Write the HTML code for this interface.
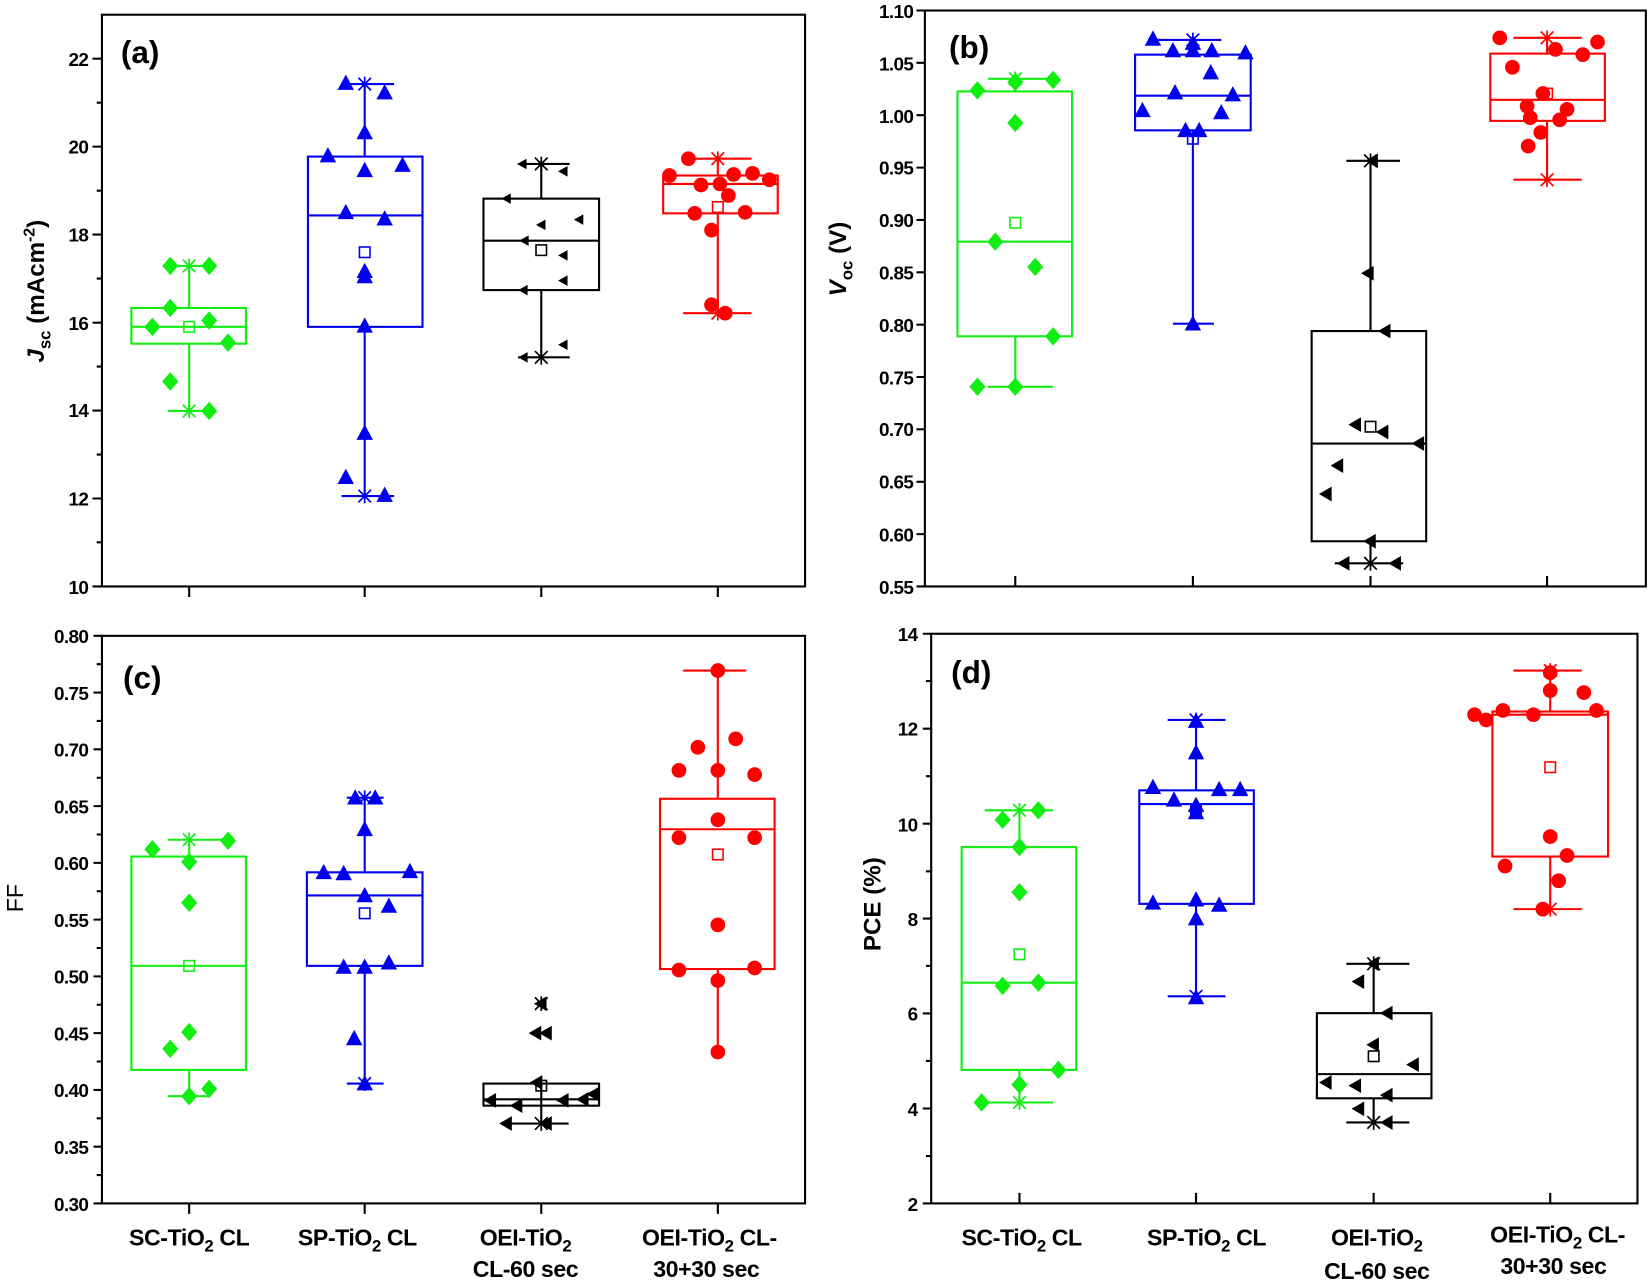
<!DOCTYPE html>
<html><head><meta charset="utf-8"><style>
html,body{margin:0;padding:0;background:#fff;}
svg{display:block;font-family:"Liberation Sans",Arial,sans-serif;}
.t{font-size:18px;font-weight:bold;fill:#000;letter-spacing:-0.6px;}
.xl{font-size:22px;font-weight:bold;fill:#000;letter-spacing:-0.4px;}
.pl{font-size:30px;font-weight:bold;fill:#000;}
.al{font-size:23px;font-weight:bold;fill:#000;}
</style></head><body>
<svg width="1648" height="1281" viewBox="0 0 1648 1281" xmlns="http://www.w3.org/2000/svg">
<defs>
<path id="dia" d="M0,-8 L7,0 0,8 -7,0Z"/>
<path id="tri" d="M0,-8 L7,5 -7,5Z"/>
<path id="lt" d="M-7,0 L5,-7 5,7Z"/>
<path id="lts" d="M-5,0 L4,-5 4,5Z"/>
<circle id="cir" r="6.5"/>
<path id="st" d="M-6,-6L6,6M-6,6L6,-6M0,-7L0,7" fill="none" stroke-width="1.6"/>
</defs>
<g transform="scale(1.051)">

<!-- ================= PANEL A ================= -->
<g stroke="#000" stroke-width="2" fill="none">
<rect x="97" y="14" width="669" height="544"/>
<path d="M97,55.8h-9M97,139.5h-9M97,223.2h-9M97,307h-9M97,390.6h-9M97,474.3h-9M97,558h-9
M97,97.7h-5M97,181.4h-5M97,265h-5M97,348.8h-5M97,432.5h-5M97,516h-5
M180,558v10M347,558v10M515,558v10M683,558v10"/>
</g>
<g class="t" text-anchor="end">
<text x="84" y="63">22</text><text x="84" y="146">20</text><text x="84" y="230">18</text><text x="84" y="314">16</text><text x="84" y="397">14</text><text x="84" y="481">12</text><text x="84" y="565">10</text>
</g>
<text class="pl" x="115" y="60">(a)</text>
<text class="al" transform="translate(42,345) rotate(-90)"><tspan font-style="italic">J</tspan><tspan font-size="16" dy="6">sc</tspan><tspan dy="-6"> (mAcm</tspan><tspan font-size="15" dy="-9">-2</tspan><tspan dy="9">)</tspan></text>

<g stroke="#11ee11" stroke-width="2" fill="none">
<rect x="125" y="293" width="109" height="34"/><path d="M125,311H234M180,293V253M180,327V391M160,253H205M160,391H205"/>
<rect x="175" y="306" width="10" height="10" stroke-width="1.5"/>
</g>
<g fill="#11ee11" stroke="#11ee11">
<use href="#dia" x="162" y="253"/><use href="#dia" x="199" y="253"/><use href="#dia" x="162" y="293"/><use href="#dia" x="145" y="311"/><use href="#dia" x="199" y="305"/><use href="#dia" x="217" y="326"/><use href="#dia" x="162" y="363"/><use href="#dia" x="199" y="391"/>
<use href="#st" x="180" y="253"/><use href="#st" x="180" y="391"/>
</g>
<g stroke="#0000ee" stroke-width="2" fill="none">
<rect x="293" y="149" width="109" height="162"/><path d="M293,205H402M347,149V80M347,311V472M325,80H375M325,472H375"/>
<rect x="342" y="235" width="10" height="10" stroke-width="1.5"/>
</g>
<g fill="#0000ee" stroke="#0000ee">
<use href="#tri" x="329" y="80"/><use href="#tri" x="366" y="89"/><use href="#tri" x="347" y="127"/><use href="#tri" x="312" y="149"/><use href="#tri" x="347" y="163"/><use href="#tri" x="383" y="158"/><use href="#tri" x="329" y="203"/><use href="#tri" x="366" y="209"/><use href="#tri" x="347" y="259"/><use href="#tri" x="347" y="264"/><use href="#tri" x="347" y="311"/><use href="#tri" x="347" y="413"/><use href="#tri" x="329" y="455"/><use href="#tri" x="366" y="472"/>
<use href="#st" x="347" y="80"/><use href="#st" x="347" y="472"/>
</g>
<g stroke="#000" stroke-width="2" fill="none">
<rect x="460" y="189" width="110" height="87"/><path d="M460,229H570M515,189V156M515,276V340M493,156H542M493,340H542"/>
<rect x="510" y="233" width="10" height="10" stroke-width="1.5"/>
</g>
<g fill="#000">
<use href="#lts" x="497" y="156"/><use href="#lts" x="536" y="163"/><use href="#lts" x="482" y="189"/><use href="#lts" x="515" y="214"/><use href="#lts" x="551" y="209"/><use href="#lts" x="499" y="229"/><use href="#lts" x="536" y="243"/><use href="#lts" x="536" y="267"/><use href="#lts" x="498" y="276"/><use href="#lts" x="536" y="328"/><use href="#lts" x="498" y="340"/>
<use href="#st" x="515" y="156" stroke="#000"/><use href="#st" x="515" y="340" stroke="#000"/>
</g>
<g stroke="#ff0000" stroke-width="2" fill="none">
<rect x="631" y="167" width="109" height="36"/><path d="M631,175H740M683,167V151M683,203V298M650,151H715M650,298H715"/>
<rect x="678" y="192" width="10" height="10" stroke-width="1.5"/>
</g>
<g fill="#ff0000" stroke="#ff0000">
<use href="#cir" x="655" y="151"/><use href="#cir" x="637" y="167"/><use href="#cir" x="698" y="166"/><use href="#cir" x="716" y="165"/><use href="#cir" x="732" y="171"/><use href="#cir" x="667" y="176"/><use href="#cir" x="685" y="175"/><use href="#cir" x="693" y="186"/><use href="#cir" x="661" y="203"/><use href="#cir" x="709" y="202"/><use href="#cir" x="677" y="219"/><use href="#cir" x="677" y="290"/><use href="#cir" x="690" y="298"/>
<use href="#st" x="683" y="151"/><use href="#st" x="683" y="298"/>
</g>

<!-- ================= PANEL B ================= -->
<g stroke="#000" stroke-width="2" fill="none">
<rect x="880" y="10" width="686" height="548"/>
<path d="M880,10h-8M880,59.8h-8M880,109.6h-8M880,159.5h-8M880,209.3h-8M880,259.1h-8M880,308.9h-8M880,358.7h-8M880,408.5h-8M880,458.4h-8M880,508.2h-8M880,558h-8
M966,558v-10M1135,558v-10M1304,558v-10M1472,558v-10"/>
</g>
<g class="t" text-anchor="end">
<text x="869" y="17">1.10</text><text x="869" y="67">1.05</text><text x="869" y="117">1.00</text><text x="869" y="166">0.95</text><text x="869" y="216">0.90</text><text x="869" y="266">0.85</text><text x="869" y="316">0.80</text><text x="869" y="366">0.75</text><text x="869" y="415">0.70</text><text x="869" y="465">0.65</text><text x="869" y="515">0.60</text><text x="869" y="565">0.55</text>
</g>
<text class="pl" x="903" y="55">(b)</text>
<text class="al" transform="translate(805,282) rotate(-90)"><tspan font-style="italic">V</tspan><tspan font-size="16" dy="6">oc</tspan><tspan dy="-6"> (V)</tspan></text>

<g stroke="#11ee11" stroke-width="2" fill="none">
<rect x="911" y="87" width="109" height="233"/><path d="M911,230H1020M966,87V75M966,320V368M940,75H1002M940,368H1002"/>
<rect x="961" y="207" width="10" height="10" stroke-width="1.5"/>
</g>
<g fill="#11ee11" stroke="#11ee11">
<use href="#dia" x="930" y="86"/><use href="#dia" x="966" y="78"/><use href="#dia" x="1002" y="76"/><use href="#dia" x="966" y="117"/><use href="#dia" x="947" y="230"/><use href="#dia" x="985" y="254"/><use href="#dia" x="1002" y="320"/><use href="#dia" x="930" y="368"/><use href="#dia" x="966" y="368"/>
<use href="#st" x="966" y="75"/>
</g>
<g stroke="#0000ee" stroke-width="2" fill="none">
<rect x="1080" y="52" width="110" height="72"/><path d="M1080,91H1190M1135,52V38M1135,124V308M1098,38H1162M1116,308H1155"/>
<rect x="1130" y="127" width="10" height="10" stroke-width="1.5"/>
</g>
<g fill="#0000ee" stroke="#0000ee">
<use href="#tri" x="1097" y="38"/><use href="#tri" x="1135" y="42"/><use href="#tri" x="1116" y="49"/><use href="#tri" x="1135" y="49"/><use href="#tri" x="1153" y="49"/><use href="#tri" x="1185" y="51"/><use href="#tri" x="1152" y="70"/><use href="#tri" x="1087" y="106"/><use href="#tri" x="1118" y="89"/><use href="#tri" x="1173" y="91"/><use href="#tri" x="1162" y="108"/><use href="#tri" x="1128" y="125"/><use href="#tri" x="1141" y="125"/><use href="#tri" x="1135" y="309"/>
<use href="#st" x="1135" y="38"/>
</g>
<g stroke="#000" stroke-width="2" fill="none">
<rect x="1248" y="315" width="109" height="200"/><path d="M1248,422H1357M1304,315V153M1304,515V536M1281,153H1332M1270,536H1335"/>
<rect x="1299" y="401" width="10" height="10" stroke-width="1.5"/>
</g>
<g fill="#000">
<use href="#lt" x="1306" y="153"/><use href="#lt" x="1302" y="260"/><use href="#lt" x="1318" y="315"/><use href="#lt" x="1290" y="404"/><use href="#lt" x="1316" y="411"/><use href="#lt" x="1273" y="443"/><use href="#lt" x="1350" y="422"/><use href="#lt" x="1262" y="470"/><use href="#lt" x="1304" y="515"/><use href="#lt" x="1279" y="536"/><use href="#lt" x="1328" y="536"/>
<use href="#st" x="1304" y="153" stroke="#000"/><use href="#st" x="1304" y="536" stroke="#000"/>
</g>
<g stroke="#ff0000" stroke-width="2" fill="none">
<rect x="1418" y="51" width="109" height="64"/><path d="M1418,95H1527M1472,51V36M1472,115V171M1440,36H1505M1440,171H1505"/>
<rect x="1467" y="84" width="10" height="10" stroke-width="1.5"/>
</g>
<g fill="#ff0000" stroke="#ff0000">
<use href="#cir" x="1427" y="36"/><use href="#cir" x="1520" y="40"/><use href="#cir" x="1506" y="52"/><use href="#cir" x="1480" y="47"/><use href="#cir" x="1439" y="64"/><use href="#cir" x="1468" y="89"/><use href="#cir" x="1453" y="101"/><use href="#cir" x="1491" y="104"/><use href="#cir" x="1466" y="126"/><use href="#cir" x="1484" y="114"/><use href="#cir" x="1456" y="112"/><use href="#cir" x="1454" y="139"/>
<use href="#st" x="1472" y="36"/><use href="#st" x="1472" y="171"/>
</g>

<!-- ================= PANEL C ================= -->
<g stroke="#000" stroke-width="2" fill="none">
<rect x="97" y="605" width="669" height="540"/>
<path d="M97,605h-8M97,659h-8M97,713h-8M97,767h-8M97,821h-8M97,875h-8M97,929h-8M97,983h-8M97,1037h-8M97,1091h-8M97,1145h-8
M97,632h-5M97,686h-5M97,740h-5M97,794h-5M97,848h-5M97,902h-5M97,956h-5M97,1010h-5M97,1064h-5M97,1118h-5
M180,1145v10M347,1145v10M515,1145v10M683,1145v10"/>
</g>
<g class="t" text-anchor="end">
<text x="84" y="612">0.80</text><text x="84" y="666">0.75</text><text x="84" y="720">0.70</text><text x="84" y="774">0.65</text><text x="84" y="828">0.60</text><text x="84" y="882">0.55</text><text x="84" y="936">0.50</text><text x="84" y="990">0.45</text><text x="84" y="1044">0.40</text><text x="84" y="1098">0.35</text><text x="84" y="1152">0.30</text>
</g>
<text class="pl" x="117" y="655">(c)</text>
<text transform="translate(22,868) rotate(-90)" font-size="22" fill="#000">FF</text>

<g stroke="#11ee11" stroke-width="2" fill="none">
<rect x="125" y="815" width="109" height="203"/><path d="M125,919H234M180,815V799M180,1018V1043M160,799H222M160,1043H200"/>
<rect x="175" y="914" width="10" height="10" stroke-width="1.5"/>
</g>
<g fill="#11ee11" stroke="#11ee11">
<use href="#dia" x="145" y="808"/><use href="#dia" x="180" y="820"/><use href="#dia" x="217" y="800"/><use href="#dia" x="180" y="859"/><use href="#dia" x="180" y="982"/><use href="#dia" x="162" y="998"/><use href="#dia" x="199" y="1036"/><use href="#dia" x="180" y="1043"/>
<use href="#st" x="180" y="799"/>
</g>
<g stroke="#0000ee" stroke-width="2" fill="none">
<rect x="292" y="830" width="110" height="89"/><path d="M292,852H402M347,830V759M347,919V1031M330,759H365M330,1031H365"/>
<rect x="342" y="864" width="10" height="10" stroke-width="1.5"/>
</g>
<g fill="#0000ee" stroke="#0000ee">
<use href="#tri" x="338" y="760"/><use href="#tri" x="357" y="760"/><use href="#tri" x="347" y="790"/><use href="#tri" x="308" y="831"/><use href="#tri" x="327" y="832"/><use href="#tri" x="390" y="830"/><use href="#tri" x="347" y="853"/><use href="#tri" x="370" y="863"/><use href="#tri" x="327" y="921"/><use href="#tri" x="347" y="921"/><use href="#tri" x="370" y="917"/><use href="#tri" x="337" y="989"/><use href="#tri" x="347" y="1032"/>
<use href="#st" x="347" y="759"/><use href="#st" x="347" y="1031"/>
</g>
<g stroke="#000" stroke-width="2" fill="none">
<rect x="460" y="1031" width="110" height="21"/><path d="M460,1046H570M515,1031V1069M480,1069H541"/>
<rect x="510" y="1028" width="10" height="10" stroke-width="1.5"/>
</g>
<g fill="#000">
<use href="#lt" x="515" y="955"/><use href="#lt" x="510" y="983"/><use href="#lt" x="520" y="983"/><use href="#lt" x="467" y="1047"/><use href="#lt" x="492" y="1052"/><use href="#lt" x="511" y="1030"/><use href="#lt" x="536" y="1047"/><use href="#lt" x="555" y="1046"/><use href="#lt" x="565" y="1041"/><use href="#lt" x="482" y="1069"/><use href="#lt" x="520" y="1069"/>
<use href="#st" x="515" y="955" stroke="#000"/><use href="#st" x="515" y="1069" stroke="#000"/>
</g>
<g stroke="#ff0000" stroke-width="2" fill="none">
<rect x="628" y="760" width="109" height="162"/><path d="M628,789H737M683,760V638M683,922V1001M650,638H710"/>
<rect x="678" y="808" width="10" height="10" stroke-width="1.5"/>
</g>
<g fill="#ff0000" stroke="#ff0000">
<use href="#cir" x="683" y="638"/><use href="#cir" x="664" y="711"/><use href="#cir" x="700" y="703"/><use href="#cir" x="646" y="733"/><use href="#cir" x="683" y="733"/><use href="#cir" x="718" y="737"/><use href="#cir" x="646" y="797"/><use href="#cir" x="683" y="780"/><use href="#cir" x="718" y="797"/><use href="#cir" x="683" y="880"/><use href="#cir" x="646" y="923"/><use href="#cir" x="683" y="933"/><use href="#cir" x="718" y="921"/><use href="#cir" x="683" y="1001"/>
</g>

<!-- ================= PANEL D ================= -->
<g stroke="#000" stroke-width="2" fill="none">
<rect x="886" y="603" width="672" height="542"/>
<path d="M886,603h-8M886,693.3h-8M886,783.7h-8M886,874h-8M886,964.3h-8M886,1054.7h-8M886,1145h-8
M886,648h-5M886,738.5h-5M886,829h-5M886,919h-5M886,1009.5h-5M886,1100h-5
M970,1145v-10M1138,1145v-10M1307,1145v-10M1475,1145v-10"/>
</g>
<g class="t" text-anchor="end">
<text x="873" y="610">14</text><text x="873" y="700">12</text><text x="873" y="791">10</text><text x="873" y="881">8</text><text x="873" y="971">6</text><text x="873" y="1062">4</text><text x="873" y="1152">2</text>
</g>
<text class="pl" x="905" y="650">(d)</text>
<text class="al" transform="translate(838,905) rotate(-90)">PCE (%)</text>

<g stroke="#11ee11" stroke-width="2" fill="none">
<rect x="915" y="806" width="109" height="212"/><path d="M915,935H1024M970,806V771M970,1018V1049M937,771H1002M937,1049H1002"/>
<rect x="965" y="903" width="10" height="10" stroke-width="1.5"/>
</g>
<g fill="#11ee11" stroke="#11ee11">
<use href="#dia" x="954" y="780"/><use href="#dia" x="988" y="771"/><use href="#dia" x="970" y="806"/><use href="#dia" x="970" y="849"/><use href="#dia" x="954" y="938"/><use href="#dia" x="988" y="935"/><use href="#dia" x="1007" y="1018"/><use href="#dia" x="970" y="1032"/><use href="#dia" x="934" y="1049"/>
<use href="#st" x="970" y="771"/><use href="#st" x="970" y="1049"/>
</g>
<g stroke="#0000ee" stroke-width="2" fill="none">
<rect x="1084" y="752" width="109" height="108"/><path d="M1084,765H1193M1138,752V685M1138,860V948M1111,685H1166M1111,948H1166"/>
<rect x="1133" y="765" width="10" height="10" stroke-width="1.5"/>
</g>
<g fill="#0000ee" stroke="#0000ee">
<use href="#tri" x="1138" y="687"/><use href="#tri" x="1138" y="717"/><use href="#tri" x="1097" y="750"/><use href="#tri" x="1117" y="762"/><use href="#tri" x="1138" y="767"/><use href="#tri" x="1160" y="752"/><use href="#tri" x="1180" y="752"/><use href="#tri" x="1138" y="774"/><use href="#tri" x="1097" y="860"/><use href="#tri" x="1138" y="857"/><use href="#tri" x="1160" y="862"/><use href="#tri" x="1138" y="875"/><use href="#tri" x="1138" y="950"/>
<use href="#st" x="1138" y="685"/><use href="#st" x="1138" y="948"/>
</g>
<g stroke="#000" stroke-width="2" fill="none">
<rect x="1253" y="964" width="109" height="81"/><path d="M1253,1022H1362M1307,964V917M1307,1045V1068M1281,917H1341M1281,1068H1341"/>
<rect x="1302" y="1000" width="10" height="10" stroke-width="1.5"/>
</g>
<g fill="#000">
<use href="#lt" x="1307" y="917"/><use href="#lt" x="1293" y="934"/><use href="#lt" x="1320" y="964"/><use href="#lt" x="1307" y="994"/><use href="#lt" x="1345" y="1013"/><use href="#lt" x="1262" y="1030"/><use href="#lt" x="1290" y="1033"/><use href="#lt" x="1320" y="1042"/><use href="#lt" x="1293" y="1055"/><use href="#lt" x="1320" y="1068"/>
<use href="#st" x="1307" y="917" stroke="#000"/><use href="#st" x="1307" y="1068" stroke="#000"/>
</g>
<g stroke="#ff0000" stroke-width="2" fill="none">
<rect x="1420" y="677" width="110" height="138"/><path d="M1420,680H1530M1475,677V638M1475,815V865M1440,638H1505M1440,865H1505"/>
<rect x="1470" y="725" width="10" height="10" stroke-width="1.5"/>
</g>
<g fill="#ff0000" stroke="#ff0000">
<use href="#cir" x="1475" y="640"/><use href="#cir" x="1475" y="657"/><use href="#cir" x="1507" y="659"/><use href="#cir" x="1403" y="680"/><use href="#cir" x="1430" y="676"/><use href="#cir" x="1459" y="680"/><use href="#cir" x="1519" y="676"/><use href="#cir" x="1414" y="685"/><use href="#cir" x="1475" y="796"/><use href="#cir" x="1432" y="824"/><use href="#cir" x="1491" y="814"/><use href="#cir" x="1483" y="838"/><use href="#cir" x="1468" y="865"/>
<use href="#st" x="1475" y="638"/><use href="#st" x="1475" y="865"/>
</g>

<g class="xl" text-anchor="middle">
<text x="180" y="1185">SC-TiO<tspan font-size="16" dy="6">2</tspan><tspan dy="-6"> CL</tspan></text>
<text x="340" y="1185">SP-TiO<tspan font-size="16" dy="6">2</tspan><tspan dy="-6"> CL</tspan></text>
<text x="500" y="1185">OEI-TiO<tspan font-size="16" dy="6">2</tspan></text>
<text x="500" y="1215">CL-60 sec</text>
<text x="675" y="1185">OEI-TiO<tspan font-size="16" dy="6">2</tspan><tspan dy="-6"> CL-</tspan></text>
<text x="672" y="1215">30+30 sec</text>
<text x="972" y="1185">SC-TiO<tspan font-size="16" dy="6">2</tspan><tspan dy="-6"> CL</tspan></text>
<text x="1148" y="1185">SP-TiO<tspan font-size="16" dy="6">2</tspan><tspan dy="-6"> CL</tspan></text>
<text x="1310" y="1185">OEI-TiO<tspan font-size="16" dy="6">2</tspan></text>
<text x="1310" y="1217">CL-60 sec</text>
<text x="1482" y="1182">OEI-TiO<tspan font-size="16" dy="6">2</tspan><tspan dy="-6"> CL-</tspan></text>
<text x="1478" y="1212">30+30 sec</text>
</g>
</g>
</svg>
</body></html>
